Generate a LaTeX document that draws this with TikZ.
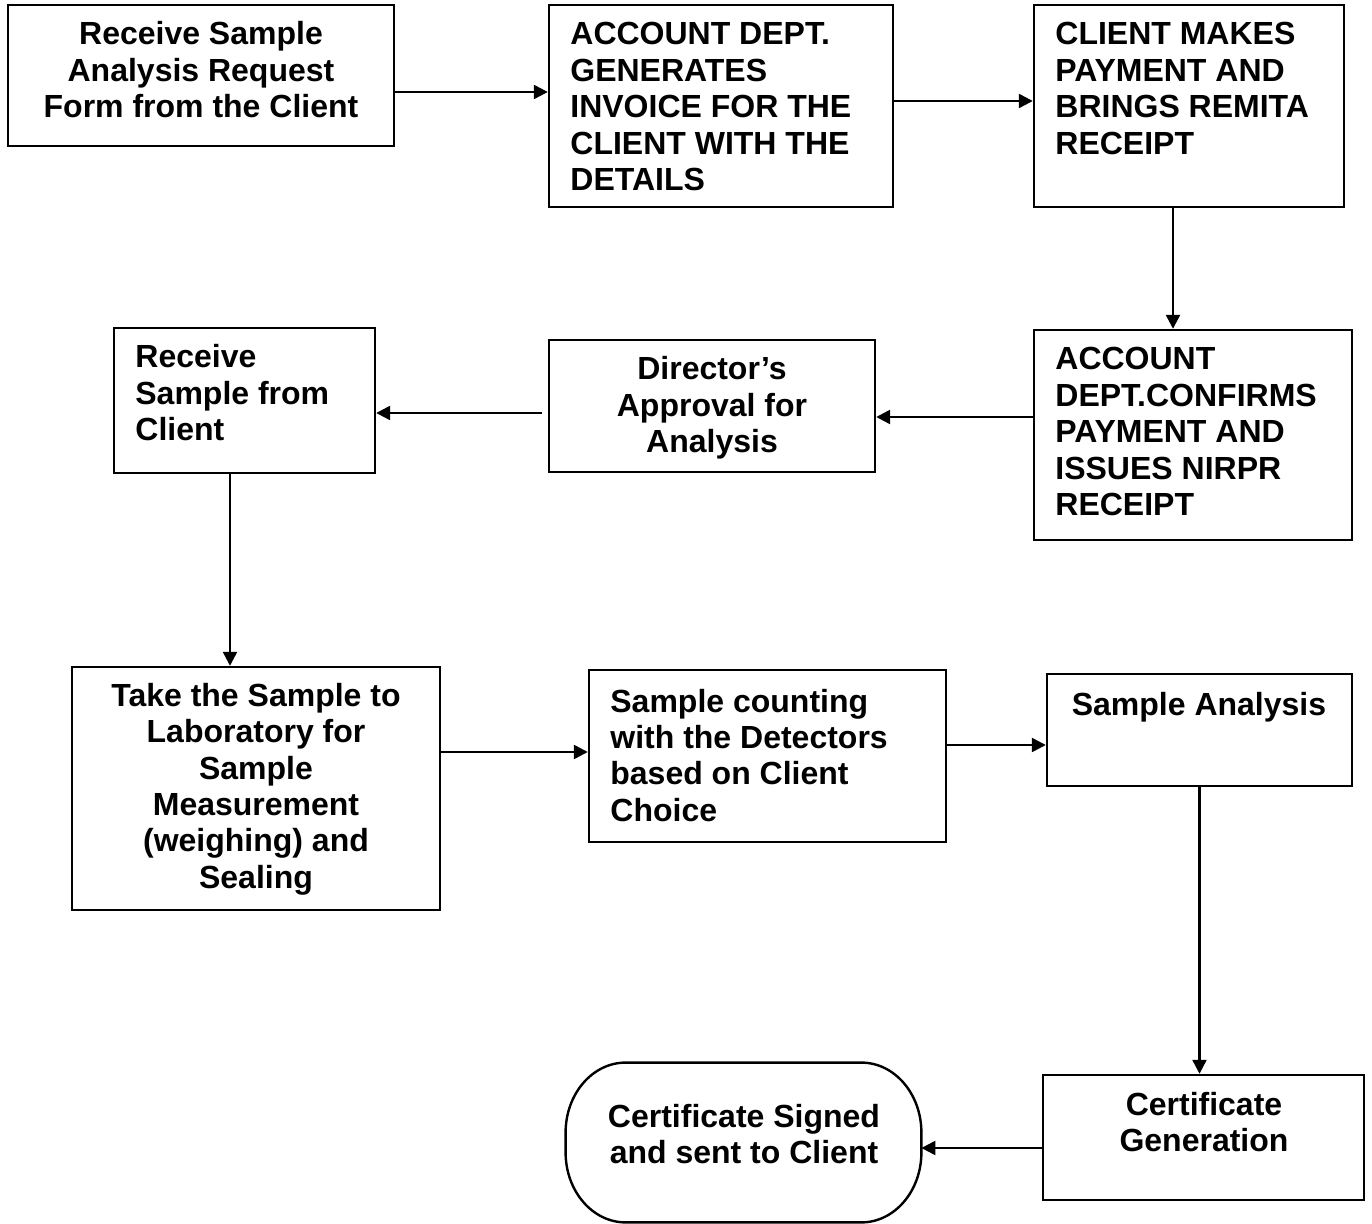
\documentclass[tikz,border=0pt]{standalone}
\usepackage{fontspec}
\setmainfont{Liberation Sans}
\usetikzlibrary{arrows.meta,fit,calc}
\begin{document}
\begin{tikzpicture}[x=0.5pt,y=-0.5pt,
  box/.style={draw=black,line width=1.2pt,inner sep=0pt,fill=none},
  txt/.style={inner sep=0pt,font=\bfseries\fontsize{16}{18.25}\selectfont},
  lft/.style={txt,align=left,anchor=base west},
  ctr/.style={txt,align=center,anchor=base},
  arr/.style={line width=1.2pt,-{Triangle[length=7pt,width=7pt]}}]
\useasboundingbox[fill=white] (0,0) rectangle (1372,1224);

% process boxes
\node[box,fit={(8,5) (394,146)}] (b1) {};
\node[box,fit={(549,5) (893,207)}] (b2) {};
\node[box,fit={(1034,5) (1344,207)}] (b3) {};
\node[box,fit={(1034,330) (1352,540)}] (b4) {};
\node[box,fit={(549,340) (875,472)}] (b5) {};
\node[box,fit={(114,328) (375,473)}] (b6) {};
\node[box,fit={(72,667) (440,910)}] (b7) {};
\node[box,fit={(589,670) (946,842)}] (b8) {};
\node[box,fit={(1047,674) (1352,786)}] (b9) {};
\node[box,fit={(1043,1075) (1364,1200)}] (b10) {};

% terminal: rectangle with elliptical corners
\node[inner sep=0pt,fit={(566,1063) (921,1222)}] (b11) {};
\draw[line width=1.2pt]
  ([xshift=30pt]b11.north west) -- ([xshift=-30pt]b11.north east)
  arc[start angle=90,end angle=0,x radius=30pt,y radius=35pt]
  -- ([yshift=35pt]b11.south east)
  arc[start angle=0,end angle=-90,x radius=30pt,y radius=35pt]
  -- ([xshift=30pt]b11.south west)
  arc[start angle=-90,end angle=-180,x radius=30pt,y radius=35pt]
  -- ([yshift=-35pt]b11.north west)
  arc[start angle=180,end angle=90,x radius=30pt,y radius=35pt]
  -- cycle;

% labels (anchored at the baseline of their last line)
\node[ctr] (t1) at (201,118) {Receive Sample\\Analysis Request\\Form from the Client};
\node[lft] (t2) at (570,191) {ACCOUNT DEPT.\\GENERATES\\INVOICE FOR THE\\CLIENT WITH THE\\DETAILS};
\node[lft] (t3) at (1055,154.5) {CLIENT MAKES\\PAYMENT AND\\BRINGS REMITA\\RECEIPT};
\node[lft] (t4) at (1055,516) {ACCOUNT\\DEPT.CONFIRMS\\PAYMENT AND\\ISSUES NIRPR\\RECEIPT};
\node[ctr] (t5) at (712,453) {Director’s\\Approval for\\Analysis};
\node[lft] (t6) at (135,441) {Receive\\Sample from\\Client};
\node[ctr] (t7) at (256,888.5) {Take the Sample to\\Laboratory for\\Sample\\Measurement\\(weighing) and\\Sealing};
\node[lft] (t8) at (610,821.5) {Sample counting\\with the Detectors\\based on Client\\Choice};
\node[ctr] (t9) at (1199,716) {Sample Analysis};
\node[ctr] (t10) at (1204,1151.5) {Certificate\\Generation};
\node[ctr] (t11) at (744,1163.5) {Certificate Signed\\and sent to Client};

% connectors
\draw[arr] ([yshift=-8.25pt]b1.east) -- ([yshift=-8.25pt]b1.east -| b2.west);
\draw[arr] ([yshift=2.5pt]b2.east) -- ([yshift=2.5pt]b2.east -| b3.west);
\draw[arr] ([xshift=-8pt]b3.south) -- ([xshift=-8pt]b3.south |- b4.north);
\draw[arr] ([yshift=9pt]b4.west) -- ([yshift=9pt]b4.west -| b5.east);
\draw[arr] ([xshift=-3pt,yshift=-3.5pt]b5.west) -- ([yshift=-3.5pt]b5.west -| b6.east);
\draw[arr] ([xshift=-7.25pt]b6.south) -- ([xshift=-7.25pt]b6.south |- b7.north);
\draw[arr] ([yshift=18.25pt]b7.east) -- ([yshift=18.25pt]b7.east -| b8.west);
\draw[arr] ([yshift=5.5pt]b8.east) -- ([yshift=5.5pt]b8.east -| b9.west);
\draw[arr] (b9.south) -- (b9.south |- b10.north);
\draw[arr] ([yshift=-5.25pt]b10.west) -- ([yshift=-5.25pt]b10.west -| b11.east);
\end{tikzpicture}
\end{document}
